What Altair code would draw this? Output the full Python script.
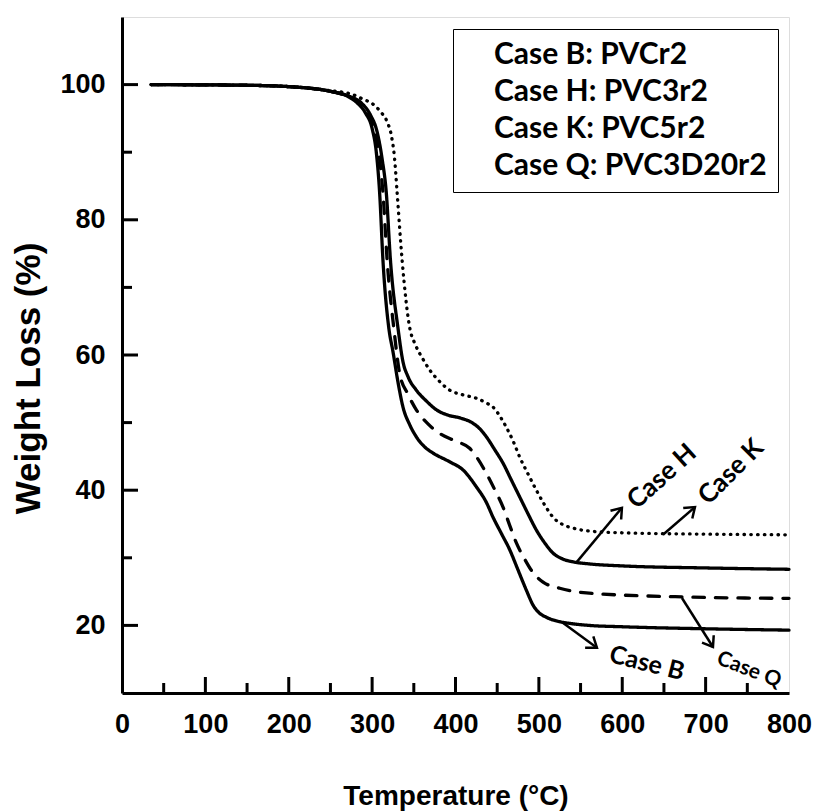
import math
import altair as alt
import pandas as pd

# ---------------- data ----------------
series_labels = ["Case B: PVCr2", "Case H: PVC3r2", "Case K: PVC5r2", "Case Q: PVC3D20r2"]

temp_B = [35, 150, 200, 250, 270, 282, 292, 300, 305, 309, 313, 320, 325, 331, 337, 345, 353, 363, 373,
          393, 409, 425, 437, 445, 455, 465, 475, 485, 493, 500, 509, 523, 537, 560, 600, 700, 800]
wl_B = [100, 99.9, 99.7, 99.0, 98.3, 97.3, 95.8, 93.5, 90, 84, 74, 64, 60.5, 56, 52.3, 49.7, 47.9, 46.4, 45.5,
        44.2, 43.0, 40.5, 38.2, 36.0, 33.6, 31.2, 28.2, 25.2, 23.0, 21.9, 21.2, 20.6, 20.3, 20.0, 19.8, 19.5, 19.3]

temp_H = [35, 150, 200, 250, 272, 287, 298, 306, 312, 317, 322, 331, 337, 343, 353, 365, 377, 391, 405, 421,
          429, 437, 447, 457, 467, 477, 487, 497, 507, 517, 529, 541, 560, 600, 700, 800]
wl_H = [100, 99.9, 99.7, 99.0, 98.3, 97.3, 95.5, 93, 89, 84, 74, 64, 59, 56.8, 54.8, 53.2, 51.9, 51.1, 50.7, 49.9,
        49.1, 47.9, 46.0, 44.0, 41.5, 39.0, 36.5, 34.1, 32.2, 30.7, 29.8, 29.4, 29.1, 28.8, 28.5, 28.3]

temp_K = [35, 150, 200, 250, 275, 290, 300, 310, 318, 323, 327, 330, 336, 345, 352, 360, 369, 380, 393,
          409, 425, 437, 445, 453, 461, 469, 477, 487, 497, 507, 517, 529, 541, 557, 600, 700, 800]
wl_K = [100, 99.9, 99.7, 99.1, 98.6, 97.8, 97.2, 96.0, 94.5, 92.5, 89, 84, 74, 64.1, 61.5, 59.6, 57.8, 56.2, 54.8,
        54.1, 53.6, 52.9, 52.3, 51.0, 49.3, 47.3, 44.9, 42.4, 40.0, 37.8, 36.0, 34.9, 34.4, 34.0, 33.7, 33.5, 33.4]

temp_Q = [35, 150, 200, 250, 270, 284, 295, 303, 309, 313, 318, 326, 333, 343, 353, 367, 381, 399, 417, 427,
          437, 447, 457, 465, 473, 483, 493, 505, 525, 557, 677, 800]
wl_Q = [100, 99.9, 99.7, 99.0, 98.3, 97.3, 95.5, 93, 89, 84, 74, 64, 57.3, 54.2, 51.9, 49.8, 48.4, 47.3, 46.2, 44.6,
        42.5, 40.1, 37.5, 34.8, 32.2, 29.8, 27.8, 26.4, 25.5, 24.8, 24.2, 24.0]

# annotations (text and arrows), in data coordinates
ann_text = ["Case H", "Case K", "Case B", "Case Q"]
ann_T = [647.6, 730.4, 629.6, 752.0]
ann_W = [42.0, 42.7, 14.4, 13.4]
ann_angle = [318, 315, 14, 21]
ann_size = [26, 26, 25, 21]

arr_T0 = [545.6, 648.8, 528.7, 671.6]
arr_W0 = [29.4, 33.4, 20.4, 24.05]
arr_T1 = [599.6, 687.2, 569.6, 708.8]
arr_W1 = [37.4, 37.5, 16.7, 16.8]

x_major = [100, 200, 300, 400, 500, 600, 700]
x_minor = [50, 150, 250, 350, 450, 550, 650, 750]
y_major = [20, 40, 60, 80, 100]
y_minor = [30, 50, 70, 90]
x_labels = [0, 100, 200, 300, 400, 500, 600, 700, 800]

# ---------------- build tables ----------------
rows = []
for lab, ts, ws in zip(series_labels, [temp_B, temp_H, temp_K, temp_Q], [wl_B, wl_H, wl_K, wl_Q]):
    for t, w in zip(ts, ws):
        rows.append({"series": lab, "T": t, "W": w})
df = pd.DataFrame(rows)

W, H = 667, 676
XD, YD = [0, 800], [10, 110]

ann_df = pd.DataFrame({"text": ann_text, "T": ann_T, "W": ann_W, "angle": ann_angle, "size": ann_size})
head_ang = []
for t0, w0, t1, w1 in zip(arr_T0, arr_W0, arr_T1, arr_W1):
    dxp = (t1 - t0) * W / (XD[1] - XD[0])
    dyp = (w1 - w0) * H / (YD[1] - YD[0])  # upward positive
    head_ang.append(math.degrees(math.atan2(dxp, dyp)) % 360)
arr_df = pd.DataFrame({"T0": arr_T0, "W0": arr_W0, "T1": arr_T1, "W1": arr_W1, "ang": head_ang})

xmaj_df = pd.DataFrame({"T": x_major})
xmin_df = pd.DataFrame({"T": x_minor})
ymaj_df = pd.DataFrame({"W": y_major})
ymin_df = pd.DataFrame({"W": y_minor})

xs = alt.Scale(domain=XD, nice=False, zero=False)
ys = alt.Scale(domain=YD, nice=False, zero=False)

SANS = "Liberation Sans"

x_axis = alt.Axis(
    values=x_labels, title="Temperature (°C)", grid=False, ticks=False, tickSize=0,
    labelFont=SANS, labelFontWeight="bold", labelFontSize=27, labelColor="black",
    labelPadding=18, labelFlush=False, labelOverlap=False, labelBound=False,
    domainColor="black", domainWidth=3,
    titleFont=SANS, titleFontWeight="bold", titleFontSize=28, titleColor="black",
    titleX=W / 2, titleY=111, titleBaseline="alphabetic", titleAlign="center",
)
y_axis = alt.Axis(
    values=y_major, title="Weight Loss (%)", grid=False, ticks=False, tickSize=0,
    labelFont=SANS, labelFontWeight="bold", labelFontSize=27, labelColor="black",
    labelPadding=17, labelOverlap=False, labelBound=False, labelFlush=False,
    domainColor="black", domainWidth=3,
    titleFont=SANS, titleFontWeight="bold", titleFontSize=35, titleColor="black",
    titleAngle=270, titleX=-94, titleY=361, titleAlign="center", titleBaseline="middle",
)

lines = alt.Chart(df).mark_line(
    color="black", strokeWidth=3.3, strokeCap="round", interpolate="monotone"
).encode(
    x=alt.X("T:Q", scale=xs, axis=x_axis),
    y=alt.Y("W:Q", scale=ys, axis=y_axis),
    strokeDash=alt.StrokeDash(
        "series:N",
        scale=alt.Scale(domain=series_labels, range=[[1, 0], [1, 0], [0.5, 6.3], [11.5, 11]]),
        sort=series_labels,
        legend=alt.Legend(
            orient="none", legendX=331, legendY=12, title=None,
            labelFont="Lato", labelFontWeight="bold", labelFontSize=30, labelColor="black",
            labelLimit=500, labelOffset=0, symbolType="circle", symbolSize=1,
            symbolOpacity=0, symbolStrokeWidth=0, padding=11, rowPadding=7,
            strokeColor="black",
        ),
    ),
)

tick_x_major = alt.Chart(xmaj_df).mark_rule(color="black", strokeWidth=3).encode(
    x=alt.X("T:Q", scale=xs), y=alt.value(H), y2=alt.value(H - 16))
tick_x_minor = alt.Chart(xmin_df).mark_rule(color="black", strokeWidth=3).encode(
    x=alt.X("T:Q", scale=xs), y=alt.value(H), y2=alt.value(H - 10))
tick_y_major = alt.Chart(ymaj_df).mark_rule(color="black", strokeWidth=3).encode(
    y=alt.Y("W:Q", scale=ys), x=alt.value(0), x2=alt.value(16))
tick_y_minor = alt.Chart(ymin_df).mark_rule(color="black", strokeWidth=3).encode(
    y=alt.Y("W:Q", scale=ys), x=alt.value(0), x2=alt.value(10))

arrows = alt.Chart(arr_df).mark_rule(color="black", strokeWidth=2.5).encode(
    x=alt.X("T0:Q", scale=xs), y=alt.Y("W0:Q", scale=ys), x2="T1:Q", y2="W1:Q")
heads = alt.Chart(arr_df).mark_point(
    shape="M -0.8 1.1 L 0 0 L 0.8 1.1", filled=False, color="black", strokeWidth=2.5, size=300, opacity=1
).encode(
    x=alt.X("T1:Q", scale=xs), y=alt.Y("W1:Q", scale=ys), angle=alt.Angle("ang:Q", scale=None))

labels = alt.Chart(ann_df).mark_text(
    font="Lato", fontWeight="bold", color="black", align="center", baseline="middle"
).encode(
    x=alt.X("T:Q", scale=xs), y=alt.Y("W:Q", scale=ys), text="text:N",
    angle=alt.Angle("angle:Q", scale=None), size=alt.Size("size:Q", scale=None))

chart = alt.layer(
    lines, tick_x_major, tick_x_minor, tick_y_major, tick_y_minor, arrows, heads, labels
).properties(
    width=W, height=H,
    autosize=alt.AutoSizeParams(type="none"),
    padding={"left": 122, "top": 17, "right": 25, "bottom": 119},
).configure_view(
    stroke="black", strokeWidth=3
).configure_legend(
    strokeWidth=2.5
).configure(background="white")

chart.save("out.html", embed_options={"renderer": "svg", "actions": False})
